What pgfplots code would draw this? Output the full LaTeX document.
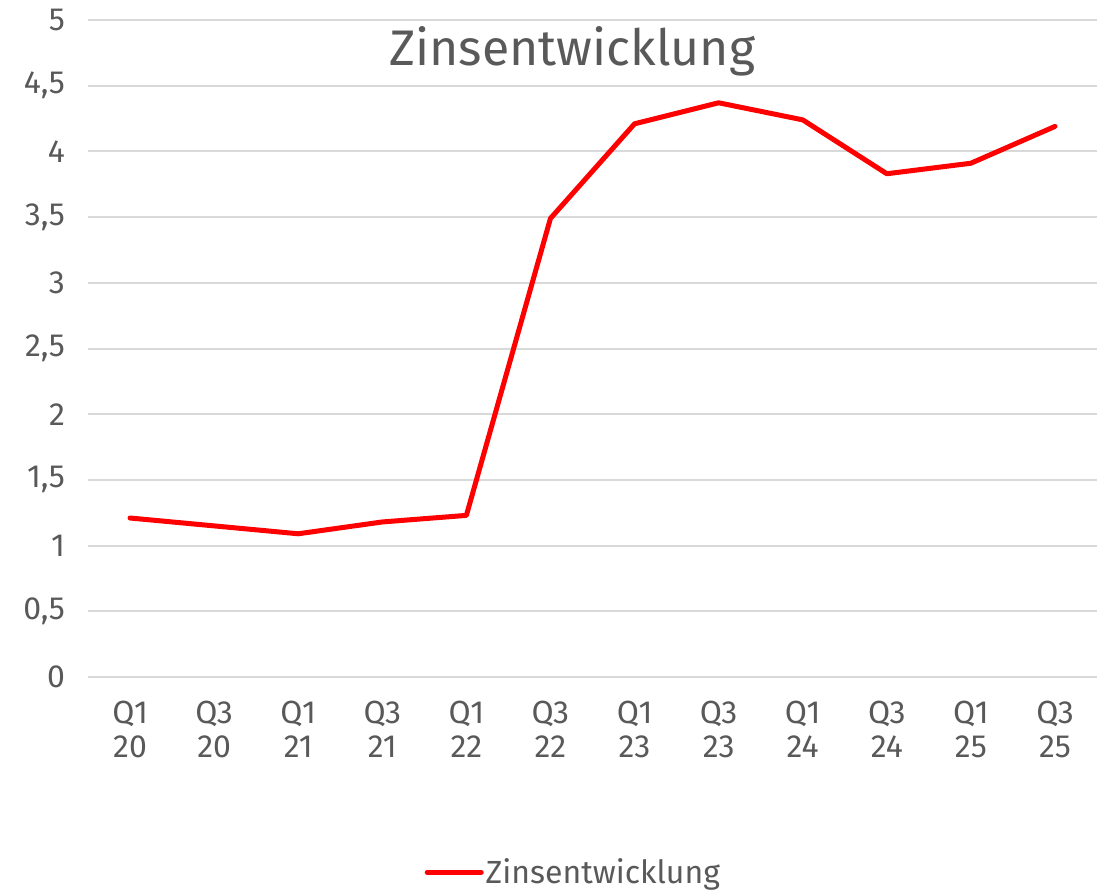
\documentclass[border=0pt]{standalone}
\usepackage{fontspec}
\setmainfont{Fira Sans}
\usepackage{pgfplots}
\pgfplotsset{compat=1.18}
\definecolor{txt}{HTML}{595959}
\definecolor{gridc}{HTML}{D9D9D9}
\begin{document}
\begin{tikzpicture}
\useasboundingbox (-44pt,-106pt) rectangle (506.5pt,338.5pt);
\begin{axis}[
  at={(0,0)}, anchor=south west,
  scale only axis, width=504.5pt, height=328.5pt,
  xmin=-0.5, xmax=11.5, ymin=0, ymax=5,
  xtick={0,...,11},
  xticklabels={{Q1\\20},{Q3\\20},{Q1\\21},{Q3\\21},{Q1\\22},{Q3\\22},{Q1\\23},{Q3\\23},{Q1\\24},{Q3\\24},{Q1\\25},{Q3\\25}},
  xticklabel style={align=center, font=\fontsize{16}{17}\selectfont, text=txt, yshift=-8.5pt},
  ytick={0,0.5,1,1.5,2,2.5,3,3.5,4,4.5,5},
  yticklabels={0,{0,5},1,{1,5},2,{2,5},3,{3,5},4,{4,5},5},
  yticklabel style={font=\fontsize{16}{18}\selectfont, text=txt, xshift=-8pt},
  ymajorgrids, grid style={draw=gridc, line width=1pt},
  axis line style={draw=none}, tick style={draw=none},
  legend style={at={(axis description cs:0.481,-0.297)}, anchor=center, draw=none, fill=none,
    font=\fontsize{16}{18}\selectfont, text=txt, inner sep=0pt,
    nodes={inner sep=1pt}},
  legend image code/.code={\draw[#1] (0pt,0pt) -- (27pt,0pt);},
]
\addplot[color=red, line width=2.5pt, line join=round, line cap=round] coordinates {
  (0,1.21) (1,1.15) (2,1.09) (3,1.18) (4,1.23) (5,3.49)
  (6,4.21) (7,4.37) (8,4.24) (9,3.83) (10,3.91) (11,4.19)
};
\addlegendentry{Zinsentwicklung}
\node[font=\fontsize{25}{30}\selectfont, text=txt, anchor=base] at (axis description cs:0.480,0.930) {Zinsentwicklung};
\end{axis}
\end{tikzpicture}
\end{document}
